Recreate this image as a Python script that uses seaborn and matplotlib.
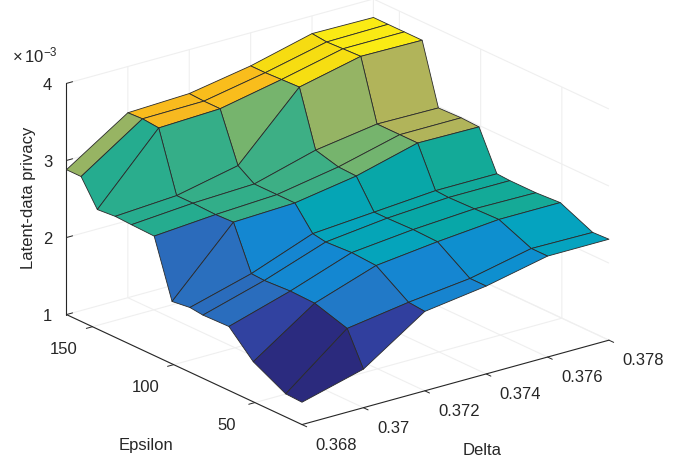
import numpy as np
import matplotlib
matplotlib.use("Agg")
import matplotlib.pyplot as plt
import seaborn as sns

delta = [0.368, 0.370, 0.372, 0.374, 0.376, 0.378]
epsilon = [21, 31, 51, 66, 82, 90, 101, 112, 126, 136, 147, 157, 166]
# one list per delta value, in order of epsilon (units of 1e-3)
z_d368 = [1.29, 1.30, 1.52, 1.83, 1.82, 1.84, 1.81, 2.55, 2.56, 2.57, 2.55, 2.88, 2.88]
z_d370 = [1.50, 1.93, 2.06, 2.07, 2.05, 2.06, 2.62, 2.61, 2.62, 2.62, 3.39, 3.41, 3.40]
z_d372 = [2.03, 2.05, 2.33, 2.35, 2.33, 2.36, 2.65, 2.65, 2.65, 2.79, 3.42, 3.42, 3.43]
z_d374 = [2.14, 2.14, 2.42, 2.43, 2.42, 2.42, 2.78, 2.79, 2.87, 3.59, 3.58, 3.57, 3.57]
z_d376 = [2.31, 2.31, 2.49, 2.48, 2.47, 2.48, 2.99, 2.99, 2.99, 3.77, 3.76, 3.75, 3.77]
z_d378 = [2.31, 2.30, 2.49, 2.47, 2.47, 2.48, 2.98, 2.99, 2.98, 3.76, 3.76, 3.76, 3.76]
x_ticks = [0.368, 0.37, 0.372, 0.374, 0.376, 0.378]
x_labels = ["0.368", "0.37", "0.372", "0.374", "0.376", "0.378"]
y_ticks = [50, 100, 150]
z_ticks = [1, 2, 3, 4]
cmap_stops = [0.0, 0.085, 0.22, 0.31, 0.34, 0.41, 0.456, 0.48, 0.55, 0.60, 0.64, 0.69, 0.85, 0.92, 1.0]
cmap_colors = ["#2B2A7D", "#31409F", "#2A6FBE", "#1487D2", "#0E8FD0", "#05A3C0", "#06A7A8", "#14AA96",
               "#3CAF85", "#73B46E", "#96B464", "#B4B45A", "#FAB81E", "#F6DC12", "#FAEB14"]

sns.set_theme(style="white")
plt.rcParams["font.family"] = ["Liberation Sans", "DejaVu Sans"]
plt.rcParams["mathtext.fontset"] = "custom"
plt.rcParams["mathtext.rm"] = "Liberation Sans"
plt.rcParams["mathtext.default"] = "rm"
ink = "#262626"

Z = np.array([z_d368, z_d370, z_d372, z_d374, z_d376, z_d378]).T
X, Y = np.meshgrid(delta, epsilon)
# stops are unevenly spaced, so sample them onto an even palette before blending
even = np.linspace(0, 1, 64)
rgb = np.array([matplotlib.colors.to_rgb(c) for c in cmap_colors])
palette = [tuple(np.interp(t, cmap_stops, rgb[:, i]) for i in range(3)) for t in even]
cmap = sns.blend_palette(palette, as_cmap=True)
norm = plt.Normalize(Z.min(), Z.max())

fig = plt.figure(figsize=(6.79, 4.60), dpi=100)
ax = fig.add_axes([-8 / 679, 11 / 460, 1.0, 1.0], projection="3d")
ax.set_proj_type("ortho")
ax.view_init(elev=21, azim=-127.5)
ax.set_box_aspect((1, 1, 0.64), zoom=1.2675)
surf = ax.plot_surface(X, Y, Z, facecolors=cmap(norm(Z)), rstride=1, cstride=1, shade=False,
                       edgecolor="#2a2a2a", linewidth=0.6, antialiased=True)
surf.set_clip_on(False)
ax.set_xlim(0.368, 0.378, view_margin=0)
ax.set_ylim(21, 166, view_margin=0)
ax.set_zlim(1, 4, view_margin=0)
ax.set_xticks(x_ticks)
ax.set_xticklabels(x_labels)
ax.set_yticks(y_ticks)
ax.set_zticks(z_ticks)
ax.tick_params(axis="both", labelsize=12, colors=ink)
ax.tick_params(axis="x", pad=2)
ax.tick_params(axis="y", pad=8)
ax.tick_params(axis="z", pad=-2)
for a in (ax.xaxis, ax.yaxis, ax.zaxis):
    a.set_pane_color((1, 1, 1, 0))
    a._axinfo["grid"].update(color="#efefef", linewidth=0.8)
    a.line.set_color(ink)
    a.line.set_linewidth(0.8)
    a._axinfo["tick"].update(inward_factor=0.25, outward_factor=0.0, linewidth={True: 0.7, False: 0.7})
ax.zaxis._axinfo["tick"].update(inward_factor=0.0, outward_factor=0.25)
for t in ax.get_xticklabels():
    t.set_va("center")
    t.set_ha("left")
for t in ax.get_yticklabels():
    t.set_va("bottom")
    t.set_ha("center")
for t in ax.get_zticklabels():
    t.set_va("center_baseline")
ax.xaxis._axinfo["label"].update(ha="right", va="center")
ax.yaxis._axinfo["label"].update(ha="left", va="top")
ax.xaxis.set_rotate_label(False)
ax.yaxis.set_rotate_label(False)
ax.zaxis.set_rotate_label(False)
ax.set_xlabel("Delta", fontsize=12, color=ink, labelpad=13, rotation=0)
ax.set_ylabel("Epsilon", fontsize=12, color=ink, labelpad=16, rotation=0)
ax.set_zlabel("Latent-data privacy", fontsize=12, color=ink, labelpad=-9, rotation=90)
fig.text(12 / 679, 1 - 55 / 460, r"$\times\,10^{-3}$", fontsize=12, color=ink, va="center")
fig.savefig("out.png", dpi=100)
